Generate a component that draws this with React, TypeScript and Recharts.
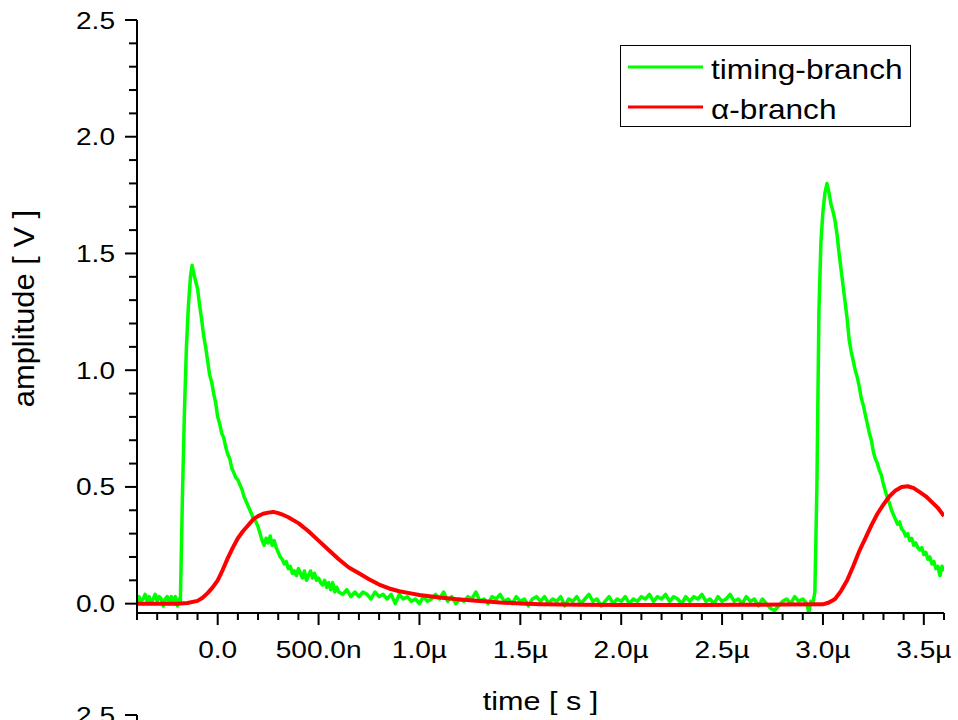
import { LineChart, Line, XAxis, YAxis, Label } from "recharts";

// time in µs, amplitude in V
const timingBranch: [number, number][] = [
  [-0.40, 0.00], [-0.39, 0.03], [-0.38, 0.01], [-0.37, 0.02], [-0.36, 0.04], [-0.35, 0.01],
  [-0.34, 0.03], [-0.33, 0.00], [-0.32, 0.02], [-0.31, 0.04], [-0.30, 0.01], [-0.29, 0.03],
  [-0.28, 0.02], [-0.27, -0.01], [-0.26, 0.02], [-0.25, 0.03], [-0.24, 0.00], [-0.23, 0.03],
  [-0.22, 0.01], [-0.21, 0.03], [-0.20, -0.01], [-0.19, 0.02], [-0.185, 0.01],
  [-0.175, 0.45], [-0.165, 0.82], [-0.155, 1.10], [-0.145, 1.28], [-0.135, 1.40], [-0.127, 1.45],
  [-0.115, 1.40], [-0.10, 1.35], [-0.09, 1.28], [-0.08, 1.22], [-0.07, 1.15], [-0.06, 1.10],
  [-0.05, 1.04], [-0.04, 0.98], [-0.03, 0.95], [-0.02, 0.90], [-0.01, 0.86], [0.00, 0.80],
  [0.01, 0.77], [0.02, 0.73], [0.03, 0.71], [0.04, 0.67], [0.05, 0.64], [0.06, 0.62],
  [0.07, 0.58], [0.08, 0.56], [0.09, 0.54], [0.10, 0.53], [0.11, 0.51], [0.12, 0.49],
  [0.13, 0.46], [0.14, 0.44], [0.15, 0.42], [0.16, 0.40], [0.17, 0.38], [0.18, 0.36],
  [0.19, 0.35], [0.20, 0.33], [0.21, 0.30], [0.22, 0.27], [0.23, 0.25], [0.24, 0.28],
  [0.25, 0.26], [0.26, 0.29], [0.27, 0.25], [0.28, 0.27], [0.29, 0.24], [0.30, 0.22],
  [0.31, 0.20], [0.32, 0.19], [0.33, 0.17], [0.34, 0.18], [0.35, 0.15], [0.36, 0.16],
  [0.37, 0.13], [0.38, 0.14], [0.39, 0.12], [0.40, 0.15], [0.41, 0.13], [0.42, 0.11],
  [0.43, 0.14], [0.44, 0.10], [0.45, 0.12], [0.46, 0.14], [0.47, 0.11], [0.48, 0.13],
  [0.49, 0.10], [0.50, 0.11], [0.51, 0.09], [0.52, 0.08], [0.53, 0.10], [0.54, 0.07],
  [0.55, 0.09], [0.56, 0.06], [0.57, 0.09], [0.58, 0.05], [0.59, 0.07], [0.60, 0.05],
  [0.62, 0.04], [0.64, 0.06], [0.66, 0.03], [0.68, 0.05], [0.70, 0.03], [0.72, 0.05],
  [0.74, 0.04], [0.76, 0.02], [0.78, 0.05], [0.80, 0.03], [0.82, 0.04], [0.84, 0.02],
  [0.86, 0.04], [0.88, 0.00], [0.90, 0.04], [0.92, 0.02], [0.94, 0.03], [0.96, 0.01],
  [0.98, 0.02], [1.00, 0.00], [1.02, 0.03], [1.04, 0.01], [1.06, 0.02], [1.08, 0.04],
  [1.10, 0.02], [1.12, 0.05], [1.14, 0.01], [1.16, 0.03], [1.18, 0.00], [1.20, 0.02],
  [1.22, 0.01], [1.24, 0.03], [1.26, 0.02], [1.28, 0.05], [1.30, 0.01], [1.32, 0.02],
  [1.34, 0.00], [1.36, 0.03], [1.38, 0.02], [1.40, 0.04], [1.42, 0.01], [1.44, 0.02],
  [1.46, 0.00], [1.48, 0.03], [1.50, 0.01], [1.52, 0.02], [1.54, -0.01], [1.56, 0.02],
  [1.58, 0.03], [1.60, 0.01], [1.62, 0.03], [1.64, 0.00], [1.66, 0.02], [1.68, 0.01],
  [1.70, 0.03], [1.72, -0.01], [1.74, 0.02], [1.76, 0.01], [1.78, 0.03], [1.80, 0.00],
  [1.82, 0.02], [1.84, 0.04], [1.86, 0.01], [1.88, 0.02], [1.90, -0.01], [1.92, 0.01],
  [1.94, 0.03], [1.96, 0.00], [1.98, 0.02], [2.00, 0.01], [2.02, 0.03], [2.04, 0.00],
  [2.06, 0.02], [2.08, 0.01], [2.10, 0.03], [2.12, 0.02], [2.14, 0.04], [2.16, 0.01],
  [2.18, 0.03], [2.20, 0.02], [2.22, 0.04], [2.24, 0.01], [2.26, 0.03], [2.28, 0.02],
  [2.30, 0.00], [2.32, 0.03], [2.34, 0.01], [2.36, 0.03], [2.38, 0.02], [2.40, 0.04],
  [2.42, 0.01], [2.44, 0.02], [2.46, 0.00], [2.48, 0.03], [2.50, 0.01], [2.52, 0.02],
  [2.54, 0.04], [2.56, 0.01], [2.58, 0.02], [2.60, 0.00], [2.62, 0.03], [2.64, 0.01],
  [2.66, 0.02], [2.68, -0.01], [2.70, 0.02], [2.72, 0.00], [2.74, -0.02], [2.76, -0.03],
  [2.78, -0.01], [2.80, 0.01], [2.82, 0.02], [2.84, 0.00], [2.86, 0.03], [2.88, 0.01],
  [2.90, 0.02], [2.92, 0.00], [2.93, -0.04], [2.94, 0.01], [2.95, 0.00], [2.96, 0.05],
  [2.97, 0.50], [2.98, 1.25], [2.99, 1.55], [3.00, 1.68], [3.01, 1.76], [3.02, 1.80],
  [3.03, 1.76], [3.04, 1.71], [3.05, 1.68], [3.06, 1.64], [3.07, 1.58], [3.08, 1.50],
  [3.09, 1.43], [3.10, 1.36], [3.11, 1.29], [3.12, 1.22], [3.13, 1.13], [3.14, 1.08],
  [3.15, 1.04], [3.16, 1.00], [3.17, 0.97], [3.18, 0.93], [3.19, 0.88], [3.20, 0.85],
  [3.21, 0.81], [3.22, 0.77], [3.23, 0.73], [3.24, 0.70], [3.25, 0.65], [3.26, 0.62],
  [3.27, 0.60], [3.28, 0.57], [3.29, 0.55], [3.30, 0.51], [3.31, 0.48], [3.32, 0.45],
  [3.33, 0.43], [3.34, 0.40], [3.35, 0.38], [3.36, 0.36], [3.37, 0.34], [3.38, 0.35],
  [3.39, 0.32], [3.40, 0.31], [3.41, 0.29], [3.42, 0.30], [3.43, 0.27], [3.44, 0.28],
  [3.45, 0.25], [3.46, 0.26], [3.47, 0.24], [3.48, 0.23], [3.49, 0.24], [3.50, 0.21],
  [3.51, 0.22], [3.52, 0.19], [3.53, 0.20], [3.54, 0.17], [3.55, 0.18], [3.56, 0.15],
  [3.57, 0.16], [3.58, 0.12], [3.59, 0.16], [3.60, 0.14],
];

const alphaBranch: [number, number][] = [
  [-0.40, 0.000], [-0.30, 0.000], [-0.20, 0.000], [-0.15, 0.003], [-0.10, 0.012],
  [-0.075, 0.025], [-0.05, 0.045], [-0.025, 0.07], [0.00, 0.10], [0.025, 0.145],
  [0.05, 0.195], [0.075, 0.24], [0.10, 0.28], [0.125, 0.31], [0.15, 0.335],
  [0.175, 0.36], [0.20, 0.375], [0.225, 0.385], [0.25, 0.39], [0.275, 0.393],
  [0.30, 0.388], [0.325, 0.38], [0.35, 0.37], [0.40, 0.345], [0.45, 0.31],
  [0.50, 0.27], [0.55, 0.23], [0.60, 0.19], [0.65, 0.155], [0.70, 0.13],
  [0.75, 0.105], [0.80, 0.082], [0.85, 0.065], [0.90, 0.053], [0.95, 0.045],
  [1.00, 0.037], [1.10, 0.026], [1.20, 0.018], [1.30, 0.011], [1.40, 0.005],
  [1.50, 0.001], [1.60, -0.002], [1.80, -0.005], [2.00, -0.006], [2.20, -0.006],
  [2.40, -0.006], [2.60, -0.005], [2.80, -0.004], [3.00, -0.003], [3.03, 0.005],
  [3.06, 0.02], [3.09, 0.055], [3.12, 0.10], [3.15, 0.16], [3.18, 0.225],
  [3.21, 0.28], [3.24, 0.335], [3.27, 0.385], [3.30, 0.425], [3.33, 0.46],
  [3.36, 0.485], [3.39, 0.50], [3.42, 0.503], [3.45, 0.495], [3.48, 0.478],
  [3.51, 0.46], [3.54, 0.435], [3.57, 0.41], [3.60, 0.375],
];

const xTicks = [
  -0.4, -0.3, -0.2, -0.1, 0, 0.1, 0.2, 0.3, 0.4, 0.5, 0.6, 0.7, 0.8, 0.9, 1, 1.1, 1.2, 1.3, 1.4,
  1.5, 1.6, 1.7, 1.8, 1.9, 2, 2.1, 2.2, 2.3, 2.4, 2.5, 2.6, 2.7, 2.8, 2.9, 3, 3.1, 3.2, 3.3,
  3.4, 3.5, 3.6,
];
const xMajorTicks = [0, 0.5, 1, 1.5, 2, 2.5, 3, 3.5];
const xTickLabels = ["0.0", "500.0n", "1.0µ", "1.5µ", "2.0µ", "2.5µ", "3.0µ", "3.5µ"];

const yTicks = [
  0, 0.1, 0.2, 0.3, 0.4, 0.5, 0.6, 0.7, 0.8, 0.9, 1, 1.1, 1.2, 1.3, 1.4, 1.5, 1.6, 1.7, 1.8,
  1.9, 2, 2.1, 2.2, 2.3, 2.4, 2.5,
];
const yMajorTicks = [0, 0.5, 1, 1.5, 2, 2.5];
const yTickLabels = ["0.0", "0.5", "1.0", "1.5", "2.0", "2.5"];

const series = [
  { name: "timing-branch", color: "#00ff00", width: 3.5, data: timingBranch },
  { name: "α-branch", color: "#ff0000", width: 4, data: alphaBranch },
];

const FONT = "'Liberation Sans', Arial, Helvetica, sans-serif";
const STRETCH = 1.17;

function majorIndex(list: number[], v: number) {
  return list.findIndex((m) => Math.abs(m - v) < 1e-6);
}

function XTick({ x, y, payload }: any) {
  const i = majorIndex(xMajorTicks, payload.value);
  return (
    <g>
      <line x1={x} x2={x} y1={y} y2={y + (i >= 0 ? 12 : 7)} stroke="#000" strokeWidth={2} />
      {i >= 0 && (
        <text
          transform={`translate(${x},${y + 45}) scale(${STRETCH},1)`}
          textAnchor="middle"
          fontSize={24}
          fontFamily={FONT}
          fill="#000"
        >
          {xTickLabels[i]}
        </text>
      )}
    </g>
  );
}

function YTick({ x, y, payload }: any) {
  const i = majorIndex(yMajorTicks, payload.value);
  return (
    <g>
      <line x1={x - (i >= 0 ? 12 : 8)} x2={x} y1={y} y2={y} stroke="#000" strokeWidth={2} />
      {i >= 0 && (
        <text
          transform={`translate(${x - 22},${y + 8.5}) scale(${STRETCH},1)`}
          textAnchor="end"
          fontSize={24}
          fontFamily={FONT}
          fill="#000"
        >
          {yTickLabels[i]}
        </text>
      )}
    </g>
  );
}

function XTitle({ viewBox }: any) {
  const cx = viewBox.x + viewBox.width / 2;
  return (
    <text
      transform={`translate(${cx},${viewBox.y + 97}) scale(1.2,1)`}
      textAnchor="middle"
      fontSize={25.5}
      fontFamily={FONT}
      fill="#000"
    >
      time [ s ]
    </text>
  );
}

function YTitle({ viewBox }: any) {
  const cy = viewBox.y + viewBox.height / 2 - 8;
  return (
    <text
      transform={`translate(${viewBox.x - 3},${cy}) rotate(-90) scale(1.03,1)`}
      textAnchor="middle"
      fontSize={30}
      fontFamily={FONT}
      fill="#000"
    >
      amplitude [ V ]
    </text>
  );
}

export default function App() {
  return (
    <div style={{ position: "relative", width: 958, height: 720, background: "#fff", overflow: "hidden" }}>
      <style>{"body{margin:0}"}</style>
      <LineChart width={958} height={720} margin={{ top: 20, right: 14, bottom: 47, left: 37 }}>
        <XAxis
          dataKey="t"
          type="number"
          domain={[-0.4, 3.6]}
          allowDataOverflow
          ticks={xTicks}
          interval={0}
          height={60}
          tickSize={0}
          tickMargin={0}
          tickLine={false}
          axisLine={{ stroke: "#000", strokeWidth: 2 }}
          tick={<XTick />}
        >
          <Label content={<XTitle />} />
        </XAxis>
        <YAxis
          type="number"
          domain={[-0.04, 2.5]}
          allowDataOverflow
          ticks={yTicks}
          interval={0}
          width={100}
          tickSize={0}
          tickMargin={0}
          tickLine={false}
          axisLine={{ stroke: "#000", strokeWidth: 2 }}
          tick={<YTick />}
        >
          <Label content={<YTitle />} />
        </YAxis>
        {series.map((s) => (
          <Line
            key={s.name}
            name={s.name}
            data={s.data.map(([t, v]) => ({ t, v }))}
            dataKey="v"
            type="linear"
            stroke={s.color}
            strokeWidth={s.width}
            strokeLinejoin="round"
            dot={false}
            activeDot={false}
            isAnimationActive={false}
          />
        ))}
      </LineChart>

      {/* legend box */}
      <svg width={291} height={82} style={{ position: "absolute", left: 620, top: 45 }}>
        <rect x={0.5} y={0.5} width={290} height={81} fill="#fff" stroke="#000" strokeWidth={1} />
        {series.map((s, i) => (
          <g key={s.name}>
            <line x1={8} x2={83} y1={22 + i * 40} y2={22 + i * 40} stroke={s.color} strokeWidth={3} />
            <text
              transform={`translate(91,${34 + i * 40}) scale(1.13,1)`}
              fontSize={28}
              fontFamily={FONT}
              fill="#000"
            >
              {s.name}
            </text>
          </g>
        ))}
      </svg>

      {/* top of the next panel, cut off by the page edge */}
      <svg width={958} height={20} style={{ position: "absolute", left: 0, top: 700 }}>
        <line x1={125} x2={137} y1={15} y2={15} stroke="#000" strokeWidth={2} />
        <line x1={137} x2={137} y1={15} y2={20} stroke="#000" strokeWidth={2} />
        <text
          transform={`translate(115,${15 + 8.5}) scale(${STRETCH},1)`}
          textAnchor="end"
          fontSize={24}
          fontFamily={FONT}
          fill="#000"
        >
          2.5
        </text>
      </svg>
    </div>
  );
}
